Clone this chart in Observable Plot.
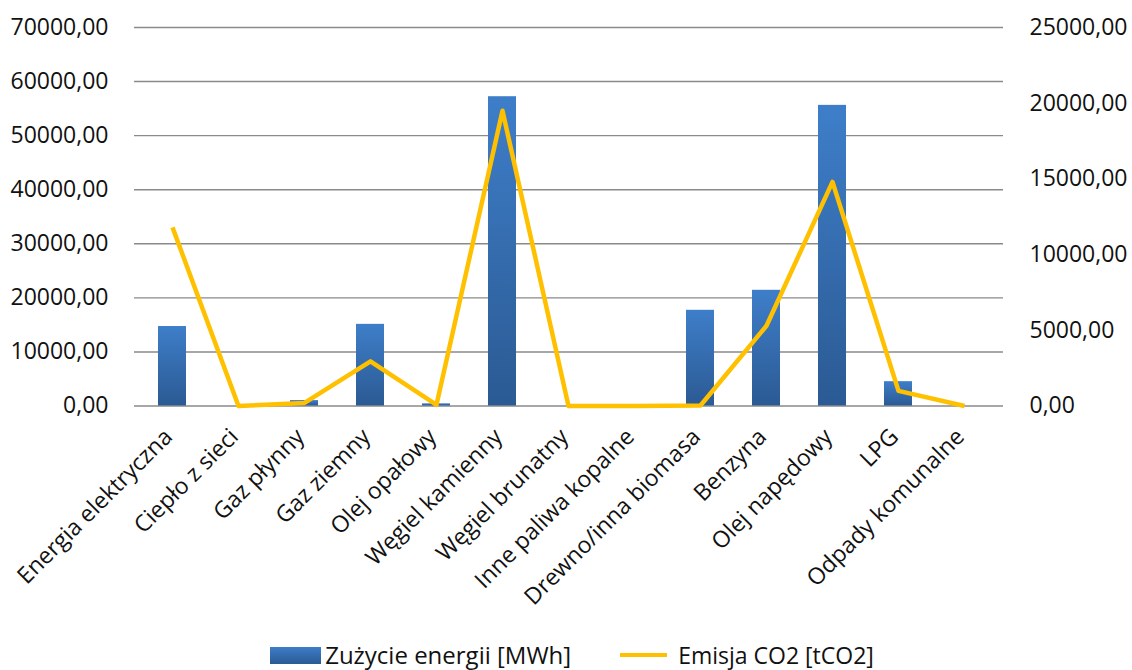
<!DOCTYPE html>
<html>
<head>
<meta charset="utf-8">
<script src="https://cdn.jsdelivr.net/npm/d3@7"></script>
<script src="https://cdn.jsdelivr.net/npm/@observablehq/plot@0.6"></script>
<style>
  html, body { margin: 0; padding: 0; background: #fff; }
  body { width: 1132px; height: 670px; position: relative; font-family: "Open Sans", sans-serif; overflow: hidden; }
  #legend { position: absolute; left: 0; top: 641px; width: 1132px; height: 28px; box-sizing: border-box; padding-left: 12px; display: flex; justify-content: center; align-items: center; font-size: 24px; line-height: 28px; color: #111; }
  .item { display: flex; align-items: center; }
  .sw-bar { width: 51px; height: 17px; background: linear-gradient(#3d7dc8, #2b5a93); margin-right: 4px; }
  .sw-line { width: 47px; height: 4px; background: #FFC000; margin-right: 11px; margin-left: 49px; }
  .t2 { font-size: 23px; }
</style>
</head>
<body>
<div id="chart"></div>
<div id="legend">
  <div class="item"><div class="sw-bar"></div><span>Zużycie energii [MWh]</span></div>
  <div class="item"><div class="sw-line"></div><span class="t2">Emisja CO2 [tCO2]</span></div>
</div>
<script>
const categories = ["Energia elektryczna", "Ciepło z sieci", "Gaz płynny", "Gaz ziemny", "Olej opałowy", "Węgiel kamienny", "Węgiel brunatny", "Inne paliwa kopalne", "Drewno/inna biomasa", "Benzyna", "Olej napędowy", "LPG", "Odpady komunalne"];
const energyMWh = [14700, 0, 1000, 15100, 400, 57200, 0, 0, 17700, 21400, 55600, 4500, 0];
const emissionCO2 = [11800, 0, 200, 2950, 80, 19500, 0, 0, 30, 5300, 14800, 1000, 0];
const leftTicks = [0, 10000, 20000, 30000, 40000, 50000, 60000, 70000];
const rightTicks = [0, 5000, 10000, 15000, 20000, 25000];

const leftMax = 70000, rightMax = 25000;
const k = leftMax / rightMax;
const fmt = d => d.toFixed(2).replace(".", ",");

const bars = categories.map((c, i) => ({cat: c, v: energyMWh[i]}));
const line = categories.map((c, i) => ({cat: c, v: emissionCO2[i] * k}));

const defs = () => {
  const d = d3.create("svg:defs");
  const g = d.append("linearGradient").attr("id", "barGrad").attr("x1", 0).attr("y1", 0).attr("x2", 0).attr("y2", 1);
  g.append("stop").attr("offset", "0%").attr("stop-color", "#3e7ec9");
  g.append("stop").attr("offset", "100%").attr("stop-color", "#2b5a93");
  return d.node();
};

const plot = Plot.plot({
  width: 1132,
  height: 630,
  marginLeft: 134,
  marginRight: 129,
  marginTop: 27,
  marginBottom: 224.5,
  style: {fontFamily: "Open Sans, sans-serif", fontSize: "23px", color: "#111", background: "#fff", overflow: "visible"},
  x: {type: "band", domain: categories, paddingInner: 0.57, paddingOuter: 0.285, label: null},
  y: {domain: [0, leftMax], label: null},
  marks: [
    defs,
    Plot.ruleY(leftTicks, {stroke: "#8a8a8a", strokeWidth: 1.4}),
    Plot.barY(bars, {x: "cat", y: "v", fill: "url(#barGrad)"}),
    Plot.line(line, {x: "cat", y: "v", stroke: "#FFC000", strokeWidth: 4.5, strokeLinejoin: "round", strokeLinecap: "butt"}),
    Plot.axisY({anchor: "left", ticks: leftTicks, tickFormat: fmt, tickSize: 0, tickPadding: 26, label: null}),
    Plot.axisY({anchor: "right", ticks: rightTicks.map(v => v * k), tickFormat: d => fmt(d / k), tickSize: 0, tickPadding: 26, label: null}),
    Plot.axisX({tickRotate: -45, tickSize: 0, tickPadding: 27, dx: -4, label: null})
  ]
});
document.getElementById("chart").appendChild(plot);
</script>
</body>
</html>
